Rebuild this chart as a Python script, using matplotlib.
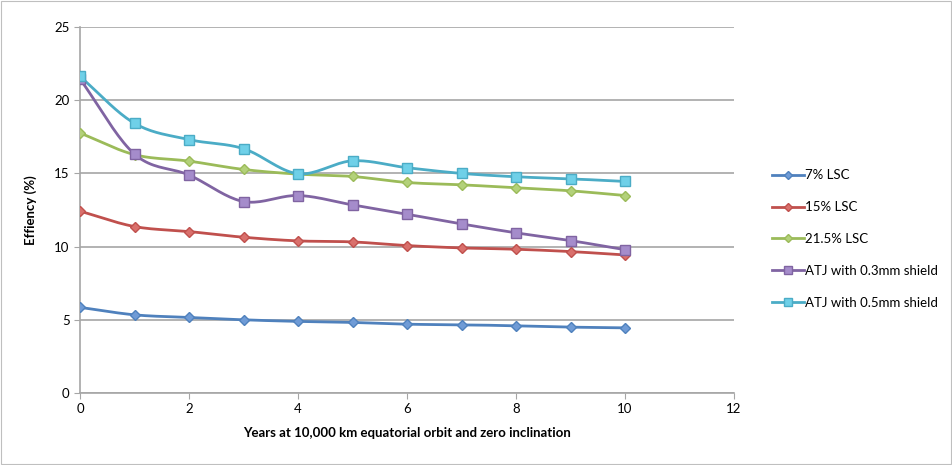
import numpy as np
import matplotlib
matplotlib.use("Agg")
import matplotlib.pyplot as plt
from matplotlib.patches import Rectangle

plt.rcParams["font.family"] = ["Lato", "DejaVu Sans"]

years = [0, 1, 2, 3, 4, 5, 6, 7, 8, 9, 10]
lsc_7 = [5.85, 5.34, 5.16, 5.0, 4.89, 4.82, 4.70, 4.66, 4.59, 4.50, 4.45]
lsc_15 = [12.42, 11.37, 11.03, 10.64, 10.39, 10.32, 10.07, 9.91, 9.82, 9.66, 9.43]
lsc_215 = [17.76, 16.28, 15.84, 15.27, 14.95, 14.79, 14.38, 14.22, 14.02, 13.81, 13.49]
atj_03 = [21.45, 16.32, 14.89, 13.08, 13.49, 12.85, 12.21, 11.55, 10.94, 10.41, 9.79]
atj_05 = [21.62, 18.42, 17.31, 16.69, 14.98, 15.86, 15.39, 15.0, 14.77, 14.63, 14.45]

labels = ["7% LSC", "15% LSC", "21.5% LSC", "ATJ with 0.3mm shield", "ATJ with 0.5mm shield"]
series = [lsc_7, lsc_15, lsc_215, atj_03, atj_05]
colors = ["#4F81BD", "#C0504D", "#9BBB59", "#8064A2", "#4BACC6"]
faces = ["#6F9BD6", "#D9706C", "#B3D17A", "#A58CCB", "#6FD0E8"]
markers = ["D", "D", "D", "s", "s"]


def smooth(x, y, n=20):
    # Catmull-Rom curve through the points (like Excel's smoothed line)
    x = np.asarray(x, float)
    y = np.asarray(y, float)
    px = np.concatenate([[2 * x[0] - x[1]], x, [2 * x[-1] - x[-2]]])
    py = np.concatenate([[2 * y[0] - y[1]], y, [2 * y[-1] - y[-2]]])
    t = np.linspace(0, 1, n, endpoint=False)
    xs, ys = [], []
    for i in range(1, len(px) - 2):
        for p, out in ((px, xs), (py, ys)):
            p0, p1, p2, p3 = p[i - 1], p[i], p[i + 1], p[i + 2]
            out.extend(0.5 * (2 * p1 + (-p0 + p2) * t
                              + (2 * p0 - 5 * p1 + 4 * p2 - p3) * t ** 2
                              + (-p0 + 3 * p1 - 3 * p2 + p3) * t ** 3))
    xs.append(x[-1])
    ys.append(y[-1])
    return xs, ys


fig = plt.figure(figsize=(9.52, 4.65), dpi=100)
ax = fig.add_axes([80 / 952, 1 - 393 / 465, 654 / 952, 366 / 465])
fig.patches.append(Rectangle((0.5 / 952, 1.5 / 465), 950 / 952, 462 / 465,
                             transform=fig.transFigure, fill=False,
                             edgecolor="#BFBFBF", linewidth=0.8))

for y, lab, c, fc, m in zip(series, labels, colors, faces, markers):
    sx, sy = smooth(years, y)
    ax.plot(sx, sy, color=c, lw=2, zorder=3)
    ms = 7.5 if m == "s" else 5.5
    ax.plot(years, y, linestyle="none", marker=m, ms=ms, mfc=fc, mec=c,
            mew=1, zorder=4)
    ax.plot([], [], color=c, lw=2, marker=m, ms=ms * 0.8, mfc=fc, mec=c,
            label=lab)

ax.set_xlim(0, 12)
ax.set_ylim(0, 25)
ax.set_xticks(range(0, 13, 2))
ax.set_yticks(range(0, 26, 5))
ax.grid(axis="y", color="#A6A6A6", lw=1.2)
ax.set_axisbelow(True)
for s in ["top", "right"]:
    ax.spines[s].set_visible(False)
for s in ["left", "bottom"]:
    ax.spines[s].set_color("#A6A6A6")
    ax.spines[s].set_linewidth(1.2)
ax.tick_params(colors="#A6A6A6", labelcolor="black", labelsize=9.5, length=4)
ax.set_xlabel("Years at 10,000 km equatorial orbit and zero inclination",
              fontsize=9.5, fontweight="bold", labelpad=8)
ax.set_ylabel("Effiency (%)", fontsize=9.5, fontweight="bold", labelpad=12)

fig.legend(loc="center left", bbox_to_anchor=(760 / 952, 1 - 239 / 465),
           frameon=False, fontsize=9.5, labelspacing=1.5, handlelength=2.4,
           handletextpad=0.1)

fig.savefig("out.png", dpi=100)
